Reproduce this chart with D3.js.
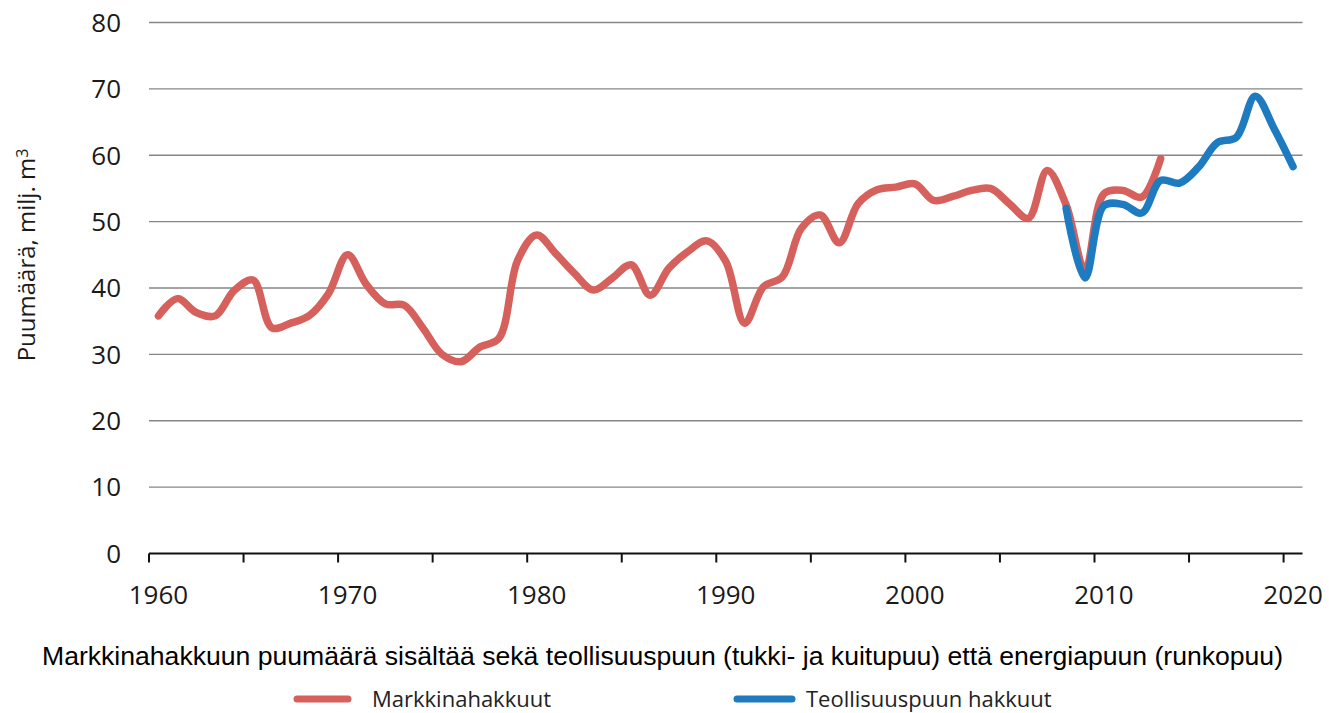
<!DOCTYPE html>
<html>
<head>
<meta charset="utf-8">
<script src="https://cdn.jsdelivr.net/npm/d3@7"></script>
<style>
  body { margin: 0; background: #fff; }
  text { fill: #1a1a1a; }
</style>
</head>
<body>
<div id="viz"></div>
<script>
// years on the category axis
var years = d3.range(1960, 2021)

// Markkinahakkuut, 1960-2013 (milj. m3)
var marketYears = d3.range(1960, 2014)
var marketValues = [
  35.8, 38.4, 36.3, 35.8, 39.6, 41.2, 34.0, 34.7, 35.9, 39.2,
  45.0, 40.5, 37.6, 37.4, 33.9, 30.0, 28.9, 31.1, 32.4, 44.2,
  48.0, 45.2, 42.2, 39.7, 41.5, 43.5, 38.9, 43.0, 45.5, 47.1,
  44.0, 34.7, 40.2, 41.7, 49.0, 51.0, 46.8, 52.7, 54.8, 55.2,
  55.7, 53.2, 53.8, 54.7, 55.0, 52.7, 50.5, 57.7, 52.5, 42.7,
  54.2, 54.7, 53.7, 59.5
]

// Teollisuuspuun hakkuut, 2008-2020 (milj. m3)
var industryYears = d3.range(2008, 2021)
var industryValues = [
  52.0, 41.5, 52.4, 52.6, 51.3, 56.2, 55.8, 58.2, 61.9, 62.7,
  68.9, 64.0, 58.3
]

var yTicks = [0, 10, 20, 30, 40, 50, 60, 70, 80]
var xLabelYears = [1960, 1970, 1980, 1990, 2000, 2010, 2020]
var seriesNames = ["Markkinahakkuut", "Teollisuuspuun hakkuut"]
var caption = "Markkinahakkuun puumäärä sisältää sekä teollisuuspuun (tukki- ja kuitupuu) että energiapuun (runkopuu)"

var width = 1329, height = 713
var red = "#d6605c", blue = "#1f7bbf"
var font = "'Open Sans', 'Noto Sans', sans-serif"

var svg = d3.select("#viz")
  .append("svg")
  .attr("width", width)
  .attr("height", height)

var x = d3.scaleBand()
  .domain(years)
  .range([149, 1302.5])
  .padding(0)

var y = d3.scaleLinear()
  .domain([0, 80])
  .range([553.5, 22.5])

function xc(yr) { return x(yr) + x.bandwidth() / 2 }

// gridlines
svg.append("g")
  .selectAll("line")
  .data(yTicks.filter(d => d > 0))
  .enter().append("line")
  .attr("x1", 149).attr("x2", 1302.5)
  .attr("y1", d => y(d)).attr("y2", d => y(d))
  .style("stroke", "#868686")
  .style("stroke-width", 1.3)

// y tick labels
svg.append("g")
  .selectAll("text")
  .data(yTicks)
  .enter().append("text")
  .attr("x", 121)
  .attr("y", d => y(d))
  .attr("dy", "0.36em")
  .attr("text-anchor", "end")
  .style("font-family", font)
  .style("font-size", "26px")
  .text(d => d)

// x axis: ticks on category boundaries every 5 years
var xAxis = d3.axisBottom(x)
  .tickValues(years.filter(d => d % 5 == 0))
  .tickSize(9)
  .tickFormat("")

var axisG = svg.append("g")
  .attr("transform", "translate(0," + y(0) + ")")
  .call(xAxis)
axisG.select(".domain")
  .attr("d", "M149,0H1302.5")
  .style("stroke", "#111")
  .style("stroke-width", 2)
axisG.selectAll(".tick")
  .attr("transform", d => "translate(" + x(d) + ",0)")
axisG.selectAll(".tick line")
  .style("stroke", "#111")
  .style("stroke-width", 2)

svg.append("g")
  .selectAll("text")
  .data(xLabelYears)
  .enter().append("text")
  .attr("x", d => xc(d))
  .attr("y", 604)
  .attr("text-anchor", "middle")
  .style("font-family", font)
  .style("font-size", "26px")
  .text(d => d)

// y axis title
var yTitle = svg.append("text")
  .attr("transform", "translate(35,255) rotate(-90)")
  .attr("text-anchor", "middle")
  .style("font-family", font)
  .style("font-size", "24px")
yTitle.append("tspan").text("Puumäärä, milj. m")
yTitle.append("tspan")
  .attr("dy", "-0.45em")
  .style("font-size", "16px")
  .text("3")

// lines
var line = d3.line()
  .x(d => xc(d[0]))
  .y(d => y(d[1]))
  .curve(d3.curveCatmullRom)

var marketData = d3.zip(marketYears, marketValues)
var industryData = d3.zip(industryYears, industryValues)

svg.append("path")
  .datum(marketData)
  .attr("d", line)
  .style("fill", "none")
  .style("stroke", red)
  .style("stroke-width", 7.5)
  .style("stroke-linecap", "round")
  .style("stroke-linejoin", "round")

svg.append("path")
  .datum(industryData)
  .attr("d", line)
  .style("fill", "none")
  .style("stroke", blue)
  .style("stroke-width", 7.5)
  .style("stroke-linecap", "round")
  .style("stroke-linejoin", "round")

// caption
svg.append("text")
  .attr("x", 662.5)
  .attr("y", 665)
  .attr("text-anchor", "middle")
  .attr("textLength", 1241)
  .attr("lengthAdjust", "spacingAndGlyphs")
  .style("font-family", "'Liberation Sans', Arial, sans-serif")
  .style("font-size", "25px")
  .style("fill", "#000")
  .text(caption)

// legend
var legend = [
  { name: seriesNames[0], color: red, x1: 297, x2: 348, tx: 372 },
  { name: seriesNames[1], color: blue, x1: 737, x2: 792, tx: 806 }
]
var lg = svg.append("g").selectAll("g")
  .data(legend)
  .enter().append("g")
lg.append("line")
  .attr("x1", d => d.x1).attr("x2", d => d.x2)
  .attr("y1", 699).attr("y2", 699)
  .style("stroke", d => d.color)
  .style("stroke-width", 7)
  .style("stroke-linecap", "round")
lg.append("text")
  .attr("x", d => d.tx)
  .attr("y", 699)
  .attr("dy", "0.36em")
  .style("font-family", font)
  .style("font-size", "22px")
  .style("fill", "#222")
  .text(d => d.name)
</script>
</body>
</html>
